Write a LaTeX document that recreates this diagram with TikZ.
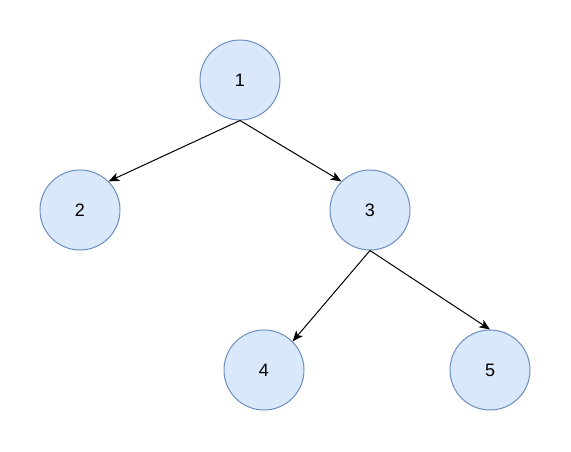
\documentclass[tikz,border=0pt]{standalone}
\usepackage{fontspec}
\setmainfont{Liberation Sans}
\usetikzlibrary{arrows.meta}
\definecolor{nodefill}{HTML}{DAE8FC}
\definecolor{nodeline}{HTML}{6C8EBF}
\begin{document}
\begin{tikzpicture}[x=0.75pt,y=-0.75pt,
  treenode/.style={circle,draw=nodeline,fill=nodefill,line width=0.75pt,minimum size=60pt,inner sep=0pt,font=\fontsize{13.5pt}{16pt}\selectfont},
  edge/.style={draw=black,line width=0.75pt,-{Stealth[length=8pt,width=6.5pt,inset=2pt]}}]
\useasboundingbox (0,0) rectangle (571,451);
\node[treenode] (n1) at (240,80) {1};
\node[treenode] (n2) at (80,210) {2};
\node[treenode] (n3) at (370,210) {3};
\node[treenode] (n4) at (264,370) {4};
\node[treenode] (n5) at (490,370) {5};
\draw[edge] (n1.south) -- (n2.45);
\draw[edge] (n1.south) -- (n3.135);
\draw[edge] (n3.south) -- (n4.45);
\draw[edge] (n3.south) -- (n5.north);
\end{tikzpicture}
\end{document}
